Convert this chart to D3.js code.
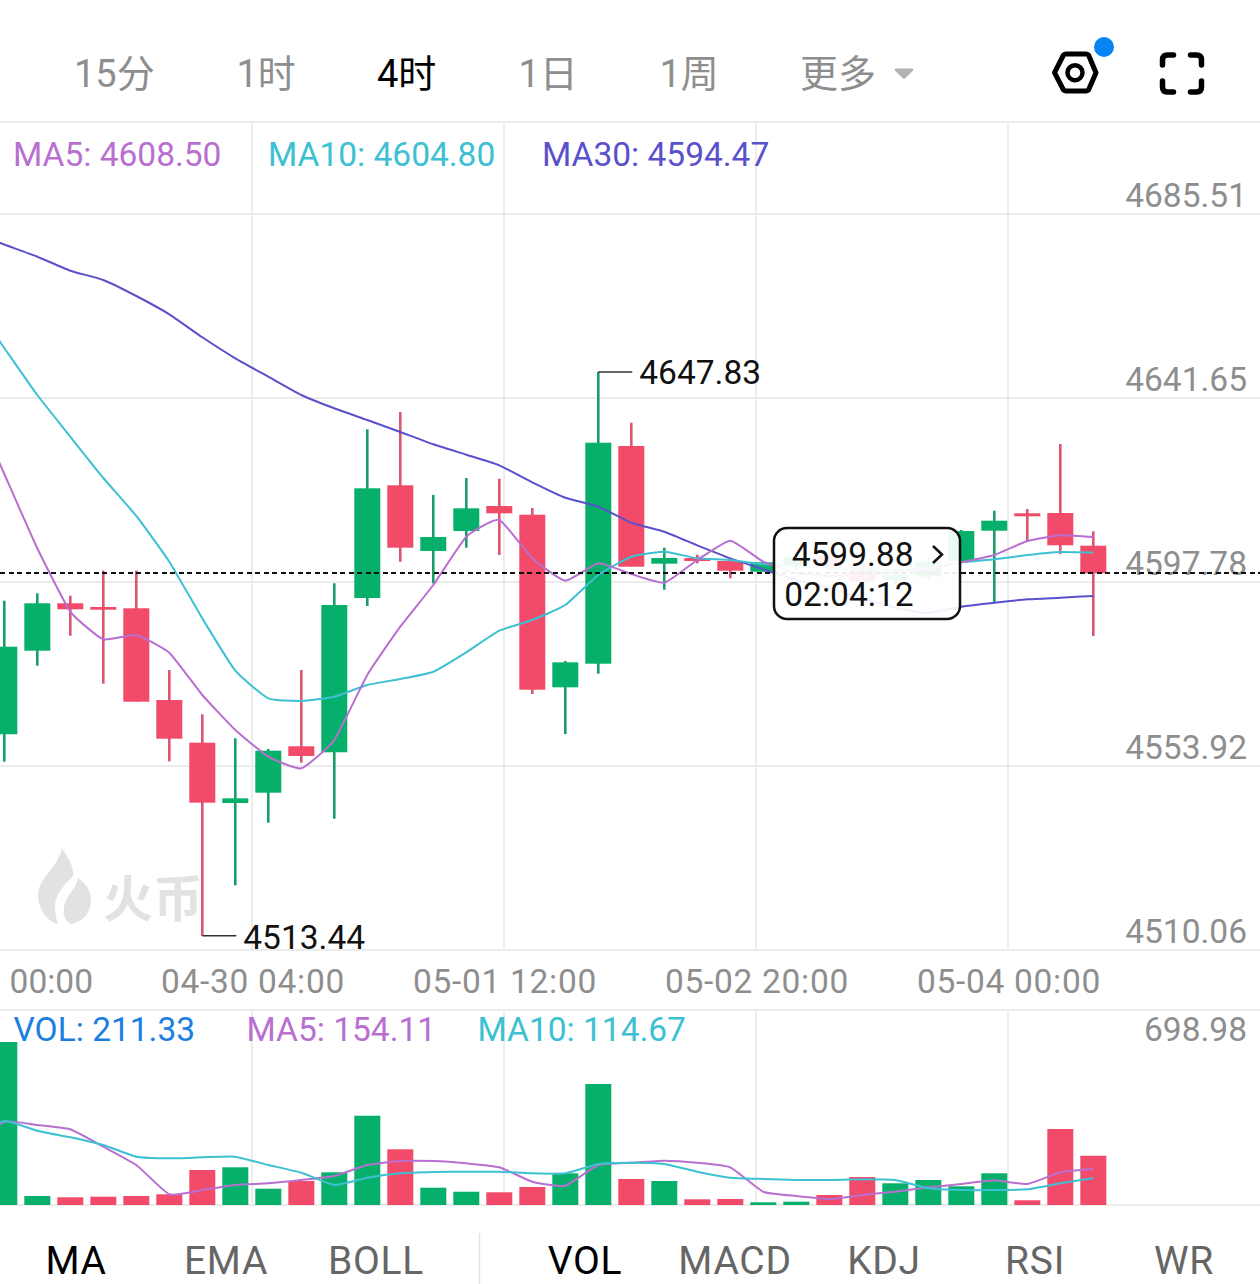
<!DOCTYPE html>
<html><head><meta charset="utf-8">
<script src="https://cdn.jsdelivr.net/npm/d3@7"></script>
<style>
html,body{margin:0;padding:0;background:#fff;width:1260px;height:1284px;overflow:hidden}
svg{display:block}
text{font-family:Roboto,"Noto Sans CJK SC",sans-serif}
</style></head><body>
<svg id="c" width="1260" height="1284"></svg>
<script>
// ---- data ----
const opens =[4561.48,4581.41,4592.71,4591.83,4591.52,4569.66,4559.48,4545.10,4547.56,4558.62,4557.19,4593.97,4620.84,4605.18,4609.94,4615.90,4613.83,4572.68,4578.31,4630.21,4602.15,4603.51,4602.79,4600.24,4601.84,4604.22,4601.12,4598.26,4599.05,4602.79,4610.01,4614.16,4614.23,4606.44];
const closes=[4582.36,4592.71,4591.28,4591.18,4569.25,4560.43,4545.18,4546.22,4557.57,4556.31,4592.30,4620.12,4605.96,4608.51,4615.35,4614.16,4572.11,4578.64,4630.99,4601.43,4603.51,4602.79,4600.48,4602.48,4603.82,4601.43,4597.86,4599.45,4602.62,4609.94,4612.40,4613.45,4606.53,4599.88];
const highs =[4593.33,4595.09,4594.52,4600.48,4600.48,4576.81,4566.25,4560.53,4557.98,4576.81,4597.48,4634.19,4638.31,4618.53,4622.58,4622.41,4615.43,4578.95,4647.83,4635.76,4605.96,4604.29,4603.03,4602.55,4604.94,4605.41,4601.84,4600.65,4603.75,4610.18,4614.78,4615.19,4630.68,4609.87];
const lows  =[4554.95,4577.83,4584.98,4573.54,4569.25,4555.04,4513.44,4525.48,4540.41,4554.71,4541.36,4592.07,4602.62,4597.48,4605.96,4604.22,4571.09,4561.55,4575.93,4601.43,4595.95,4602.24,4598.67,4600.24,4600.65,4600.65,4597.07,4597.07,4598.26,4602.32,4592.71,4607.63,4604.46,4584.91];
// moving averages hold one extra leading value, for the candle just left of the frame
const ma5 =[4641.41,4623.53,4605.82,4590.71,4584.13,4585.15,4580.93,4570.85,4562.51,4556.14,4553.37,4560.12,4575.62,4587.13,4597.07,4608.58,4612.57,4603.43,4598.09,4602.24,4599.69,4597.62,4603.03,4607.63,4602.62,4599.93,4599.22,4599.45,4600.17,4600.89,4602.48,4604.22,4607.56,4608.92,4608.50];
const ma10=[4664.89,4653.57,4642.36,4632.42,4622.58,4613.52,4602.62,4589.13,4576.64,4570.06,4569.42,4570.44,4573.23,4574.66,4576.40,4581.03,4586.18,4588.73,4592.30,4599.45,4603.82,4605.01,4603.43,4603.03,4602.01,4601.60,4601.12,4600.65,4600.65,4601.12,4602.48,4603.20,4604.22,4604.94,4604.80];
const ma30=[4681.22,4678.24,4675.33,4671.99,4669.78,4665.96,4661.60,4656.12,4651.11,4646.73,4642.36,4639.19,4636.40,4633.54,4630.61,4628.13,4625.60,4621.55,4617.88,4615.74,4611.92,4609.78,4606.53,4603.43,4600.81,4598.26,4596.36,4593.97,4591.59,4590.40,4591.90,4592.85,4593.66,4594.04,4594.47];
const volumes=[698.98,38.6,33.0,35.6,38.6,45.9,150.1,161.7,69.9,102.9,140.2,382.9,238.8,74.2,57.0,54.5,77.2,135.9,518.9,111.5,102.9,24.4,25.7,11.6,14.2,42.9,120.1,93.1,107.2,80.2,135.9,20.2,325.9,211.33];
const volMa5 =[249,357.2,343,324.6,250,171.5,45.9,64.3,85.8,93,107.2,124.4,171.5,188.7,188.7,178.8,161.7,99.9,82.8,171.5,181.4,190,181.4,161.7,57,38.6,25.7,42.9,57,75.9,90,105.9,90,140.2,154.11];
const volMa10=[287,360.2,318.6,290.3,257.3,207.1,200.2,204.5,207.1,171.5,138.5,85.8,117.1,135.9,141.5,142.8,142.8,135.9,135.9,175.8,181.4,175.8,142.8,117.1,111.5,107.2,107.2,110.2,107.2,71.6,64.3,64.3,67.3,93,114.67];
const priceTicks=[4685.51,4641.65,4597.78,4553.92,4510.06];
const timeTicks=["00:00","04-30 04:00","05-01 12:00","05-02 20:00","05-04 00:00"];
const tabs=["15分","1时","4时","1日","1周","更多"];
const activeTab="4时";
const indicators=["MA","EMA","BOLL","VOL","MACD","KDJ","RSI","WR"];
const activeIndicators=["MA","VOL"];
const maLegend=[["MA5",4608.50],["MA10",4604.80],["MA30",4594.47]];
const volLegend=[["VOL",211.33],["MA5",154.11],["MA10",114.67]];
const volTop=698.98;
const countdown="02:04:12";

// ---- style ----
const GREEN="#07b06a",RED="#f24a69",GREEN_W="#1a9e68",RED_W="#db5670";
const C5="#b86fd0",C10="#3cc0d2",C30="#5b50cc",CVOL="#1a7fe0",GREY="#8e8e8e",GRID="#ececec";
const FS=33.5;

const svg=d3.select("#c");
const x=d3.scaleLinear().domain([0,33]).range([4.3,1093.3]);
const y=d3.scaleLinear().domain([4510.06,4685.51]).range([950,214]);
const yv=d3.scaleLinear().domain([0,volTop]).range([1205,1042]);
const xt=d3.scaleLinear().domain([0,4]).range([0,1008]);
const n=opens.length, idx=d3.range(n);
const BW=26;

// pane borders
[122,1010].forEach(v=>svg.append("line").attr("x1",0).attr("x2",1260).attr("y1",v).attr("y2",v).attr("stroke",GRID).attr("stroke-width",2));

// grid + axes
function vGrid(top,bottom,labels){
  const g=svg.append("g").attr("transform",`translate(0,${bottom})`)
    .call(d3.axisBottom(xt).offset(0).tickValues(d3.range(timeTicks.length)).tickSize(-(bottom-top)).tickFormat(i=>labels?timeTicks[i]:""));
  g.select(".domain").remove();
  g.selectAll(".tick line").attr("stroke",GRID).attr("stroke-width",2).filter(d=>d===0).remove();
  g.selectAll(".tick text").attr("text-anchor","end").attr("x",93).attr("y",null).attr("dy",null)
    .attr("transform","translate(0,42.5)").attr("fill",GREY).style("font-size",FS+"px")
    .style("letter-spacing",d=>d===0?"0":"0.7px");
}
vGrid(122,950,true);
vGrid(1010,1205,false);

const ga=svg.append("g").call(d3.axisRight(y).offset(0).tickValues(priceTicks).tickSize(1260).tickFormat(d3.format(".2f")));
ga.select(".domain").remove();
ga.selectAll(".tick line").attr("stroke",GRID).attr("stroke-width",2);
ga.selectAll(".tick text").attr("text-anchor","end").attr("x",1247).attr("dy",null).attr("y",-7)
  .attr("fill",GREY).style("font-size",FS+"px");
svg.append("line").attr("x1",0).attr("x2",1260).attr("y1",yv(0)).attr("y2",yv(0)).attr("stroke",GRID).attr("stroke-width",2);

// watermark
const wm=svg.append("g").attr("fill","#e2e2e2");
wm.append("path").attr("d","M62,848 C68,858 74,866 73,876 C66,884 56,892 55,905 C55,913 56,919 58,924 C46,921 38,908 38,895 C38,878 58,868 62,848 Z M78,878 C86,884 91,890 91,900 C91,912 84,921 72,924 C64,922 62,912 65,903 C68,894 76,888 78,878 Z");
wm.append("text").attr("x",103).attr("y",917).text("火币").style("font-size","50px").style("font-weight",700);

// candles
const cg=svg.append("g");
cg.selectAll("line").data(idx).join("line")
  .attr("x1",x).attr("x2",x).attr("y1",i=>y(highs[i])).attr("y2",i=>y(lows[i]))
  .attr("stroke",i=>closes[i]>=opens[i]?GREEN_W:RED_W).attr("stroke-width",2.6);
cg.selectAll("rect").data(idx).join("rect")
  .attr("x",i=>x(i)-BW/2).attr("width",BW)
  .attr("y",i=>y(Math.max(opens[i],closes[i])))
  .attr("height",i=>Math.abs(y(opens[i])-y(closes[i])))
  .attr("fill",i=>closes[i]>=opens[i]?GREEN:RED);

// MA lines
function maLine(vals,color,sy){
  const l=d3.line().x((d,i)=>x(i-1)).y(d=>sy(d)).curve(d3.curveCardinal.tension(0.55));
  svg.append("path").datum(vals).attr("d",l).attr("fill","none").attr("stroke",color).attr("stroke-width",2).attr("stroke-linejoin","round");
}
maLine(ma30,C30,y);
maLine(ma10,C10,y);
maLine(ma5,C5,y);

// extreme annotations
function extreme(iVal,val,side){
  const px=x(iVal),py=y(val);
  svg.append("line").attr("x1",px).attr("x2",px+34).attr("y1",py).attr("y2",py).attr("stroke","#333").attr("stroke-width",1.5);
  svg.append("text").attr("x",px+41).attr("y",py+side).attr("fill","#111").style("font-size",FS+"px").text(val.toFixed(2));
}
extreme(highs.indexOf(d3.max(highs)),d3.max(highs),12);
extreme(lows.indexOf(d3.min(lows)),d3.min(lows),13.5);

// current price line
const last=closes[n-1];
svg.append("line").attr("x1",0).attr("x2",1260).attr("y1",y(last)).attr("y2",y(last))
  .attr("stroke","#111").attr("stroke-width",2).attr("stroke-dasharray","5 3.5").attr("shape-rendering","crispEdges");

// current price box
svg.append("rect").attr("x",774).attr("y",528).attr("width",186).attr("height",91).attr("rx",13)
  .attr("fill","#fff").attr("fill-opacity",.93).attr("stroke","#111").attr("stroke-width",2.5);
svg.append("text").attr("x",913.5).attr("y",566).attr("text-anchor","end").attr("fill","#111").style("font-size",FS+"px").text(last.toFixed(2));
svg.append("text").attr("x",913.5).attr("y",606).attr("text-anchor","end").attr("fill","#111").style("font-size",FS+"px").text(countdown);
svg.append("path").attr("d","M933,546 L942,554.5 L933,563").attr("fill","none").attr("stroke","#111").attr("stroke-width",2.5);

// legends
function legend(items,xs,yy,colors){
  items.forEach((d,i)=>svg.append("text").attr("x",xs[i]).attr("y",yy).attr("fill",colors[i]).style("font-size",FS+"px").text(`${d[0]}: ${d[1].toFixed(2)}`));
}
legend(maLegend,[13,268,542],166,[C5,C10,C30]);
legend(volLegend,[13.5,246.5,477.5],1041,[CVOL,C5,C10]);
svg.append("text").attr("x",1247).attr("y",1041).attr("text-anchor","end").attr("fill",GREY).style("font-size",FS+"px").text(volTop.toFixed(2));

// volume
svg.append("g").selectAll("rect").data(idx).join("rect")
  .attr("x",i=>x(i)-BW/2).attr("width",BW)
  .attr("y",i=>yv(volumes[i])).attr("height",i=>yv(0)-yv(volumes[i]))
  .attr("fill",i=>closes[i]>=opens[i]?GREEN:RED);
maLine(volMa5,C5,yv);
maLine(volMa10,C10,yv);

// top tabs
const tabX=[74,236.5,377,518.5,659.5,800];
tabs.forEach((t,i)=>svg.append("text").attr("x",tabX[i]).attr("y",87).attr("fill",t===activeTab?"#000":GREY)
  .style("font-size","38px").text(t));
svg.append("path").attr("d","M896,68.5 L912,68.5 Q914,68.5 913,70.5 L905.5,78 Q904,79 902.5,78 L895,70.5 Q894,68.5 896,68.5 Z").attr("fill","#b3b3b3");

// hexagon-nut icon
svg.append("path").attr("d","M1054.5,72.7 L1063.5,55 Q1064.5,54 1066,54 L1086,54 Q1087.5,54 1088.5,55 L1096,72.7 L1088.5,90 Q1087.5,91 1086,91 L1066,91 Q1064.5,91 1063.5,90 Z")
  .attr("fill","none").attr("stroke","#000").attr("stroke-width",5).attr("stroke-linejoin","round");
svg.append("circle").attr("cx",1075).attr("cy",72.7).attr("r",7.5).attr("fill","none").attr("stroke","#000").attr("stroke-width",4.5);
svg.append("circle").attr("cx",1104).attr("cy",47).attr("r",10).attr("fill","#0a84f5");

// fullscreen icon
svg.append("path").attr("d","M1162.5,65 L1162.5,60 Q1162.5,55 1167.5,55 L1173.5,55 M1190.5,55 L1196.5,55 Q1201.5,55 1201.5,60 L1201.5,65 M1201.5,81 L1201.5,87 Q1201.5,92 1196.5,92 L1190.5,92 M1173.5,92 L1167.5,92 Q1162.5,92 1162.5,87 L1162.5,81")
  .attr("fill","none").attr("stroke","#000").attr("stroke-width",5.5).attr("stroke-linecap","round");

// bottom indicator tabs
const indX=[76,226,376,585,735,884,1035,1184];
indicators.forEach((t,i)=>svg.append("text").attr("x",indX[i]).attr("y",1273.5).attr("text-anchor","middle")
  .attr("fill",activeIndicators.includes(t)?"#000":"#666").style("font-size","39px").style("letter-spacing","0.7px").text(t));
svg.append("line").attr("x1",479.5).attr("x2",479.5).attr("y1",1233).attr("y2",1284).attr("stroke","#e3e3e3").attr("stroke-width",1.5);
</script>
</body></html>
